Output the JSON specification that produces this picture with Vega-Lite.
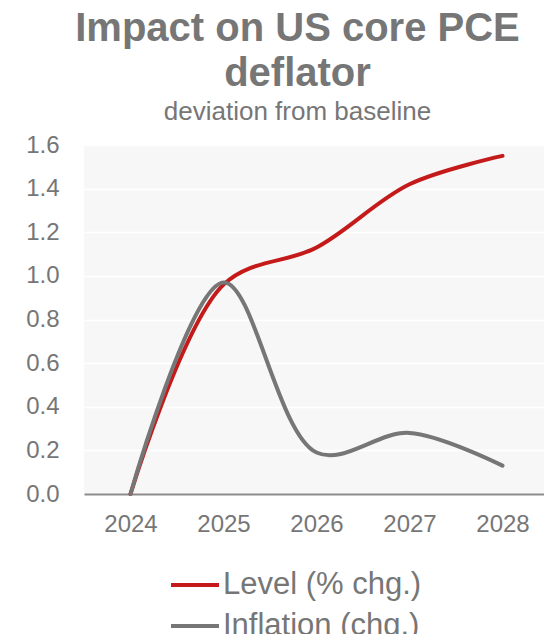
{
  "$schema": "https://vega.github.io/schema/vega-lite/v6.json",
  "autosize": "none",
  "padding": {"left": 84, "top": 145, "right": 0, "bottom": 140},
  "width": 465,
  "height": 349,
  "background": "white",
  "title": {
    "text": ["Impact on US core PCE", "deflator"],
    "subtitle": "deviation from baseline",
    "anchor": "middle",
    "frame": "group",
    "dx": -19,
    "offset": 8,
    "font": "Liberation Sans",
    "fontSize": 40,
    "fontWeight": "bold",
    "color": "#767676",
    "lineHeight": 45,
    "subtitleFont": "Liberation Sans",
    "subtitleFontSize": 26,
    "subtitleColor": "#767676",
    "subtitlePadding": 5
  },
  "config": {
    "view": {"fill": "#f7f7f7", "stroke": null},
    "font": "Liberation Sans"
  },
  "data": {
    "values": [
      {"year": "2024", "series": "Level (% chg.)", "value": 0.0},
      {"year": "2025", "series": "Level (% chg.)", "value": 0.96},
      {"year": "2026", "series": "Level (% chg.)", "value": 1.13},
      {"year": "2027", "series": "Level (% chg.)", "value": 1.42},
      {"year": "2028", "series": "Level (% chg.)", "value": 1.55},
      {"year": "2024", "series": "Inflation (chg.)", "value": 0.0},
      {"year": "2025", "series": "Inflation (chg.)", "value": 0.97},
      {"year": "2026", "series": "Inflation (chg.)", "value": 0.19},
      {"year": "2027", "series": "Inflation (chg.)", "value": 0.28},
      {"year": "2028", "series": "Inflation (chg.)", "value": 0.13}
    ]
  },
  "mark": {"type": "line", "interpolate": "catmull-rom", "strokeWidth": 4, "strokeCap": "round"},
  "encoding": {
    "x": {
      "field": "year",
      "type": "ordinal",
      "scale": {"type": "point", "padding": 0.5},
      "axis": {
        "title": null,
        "labelAngle": 0,
        "labelFontSize": 24,
        "labelColor": "#767676",
        "labelPadding": 18,
        "ticks": false,
        "domain": true,
        "domainColor": "#8c8c8c",
        "domainWidth": 2,
        "grid": false
      }
    },
    "y": {
      "field": "value",
      "type": "quantitative",
      "scale": {"domain": [0, 1.6], "nice": false},
      "axis": {
        "title": null,
        "values": [0, 0.2, 0.4, 0.6, 0.8, 1.0, 1.2, 1.4, 1.6],
        "format": ".1f",
        "labelFontSize": 24,
        "labelColor": "#767676",
        "labelPadding": 25,
        "ticks": false,
        "domain": false,
        "grid": true,
        "gridColor": "white",
        "gridWidth": 1.5
      }
    },
    "color": {
      "field": "series",
      "type": "nominal",
      "sort": ["Level (% chg.)", "Inflation (chg.)"],
      "scale": {"domain": ["Level (% chg.)", "Inflation (chg.)"], "range": ["#c41a1a", "#767676"]},
      "legend": {
        "title": null,
        "orient": "none",
        "legendX": 85,
        "legendY": 414,
        "direction": "vertical",
        "symbolType": "stroke",
        "symbolSize": 2304,
        "symbolStrokeWidth": 4,
        "labelFontSize": 31,
        "labelLimit": 400,
        "labelColor": "#767676",
        "labelOffset": 2,
        "rowPadding": -22
      }
    }
  }
}
